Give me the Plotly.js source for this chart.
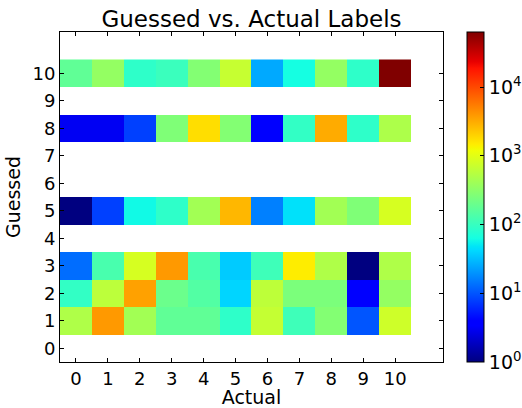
<!DOCTYPE html>
<html>
<head>
<meta charset="utf-8">
<script src="https://cdn.plot.ly/plotly-3.0.1.min.js"></script>
<style>html,body{margin:0;padding:0;background:#fff;}#chart{width:522px;height:408px;}</style>
</head>
<body>
<div id="chart"></div>
<script>
// Counts: rows = guessed label, columns = actual label (null = no data)
const actualLabels = [0,1,2,3,4,5,6,7,8,9,10];
const guessedLabels = [0,1,2,3,4,5,6,7,8,9,10];
const row0 = [null,null,null,null,null,null,null,null,null,null,null];
const row1 = [501,3890,423,175,175,88,661,110,281,10,759];
const row2 = [93,595,3565,201,145,40,608,251,251,4,350];
const row3 = [13,126,847,3890,126,36,110,1456,501,1,501];
const row4 = [null,null,null,null,null,null,null,null,null,null,null];
const row5 = [1,8,60,88,423,2735,16,46,423,265,847];
const row6 = [null,null,null,null,null,null,null,null,null,null,null];
const row7 = [null,null,null,null,null,null,null,null,null,null,null];
const row8 = [3,3,8,265,1740,281,4,93,3160,88,488];
const row9 = [null,null,null,null,null,null,null,null,null,null,null];
const row10 = [175,350,88,104,281,679,25,63,350,88,63000];
const colorTickExps = [0,1,2,3,4];
const colorMaxExp = 4.8;

const rows = [row0,row1,row2,row3,row4,row5,row6,row7,row8,row9,row10];
const zLog = rows.map(r => r.map(v => v === null ? null : Math.log10(v)));

// matplotlib 'jet' colormap
const seg = {
  r: [[0,0],[0.35,0],[0.66,1],[0.89,1],[1,0.5]],
  g: [[0,0],[0.125,0],[0.375,1],[0.64,1],[0.91,0],[1,0]],
  b: [[0,0.5],[0.11,1],[0.34,1],[0.65,0],[1,0]]
};
function interp(s, t){
  for(let i=0;i<s.length-1;i++){
    if(t>=s[i][0] && t<=s[i+1][0]){
      const f=(t-s[i][0])/(s[i+1][0]-s[i][0]);
      return s[i][1]+f*(s[i+1][1]-s[i][1]);
    }
  }
  return s[s.length-1][1];
}
const stops = [0,0.11,0.125,0.34,0.35,0.375,0.5,0.64,0.65,0.66,0.89,0.91,1];
const jet = stops.map(t => [t, 'rgb(' + Math.round(255*interp(seg.r,t)) + ',' + Math.round(255*interp(seg.g,t)) + ',' + Math.round(255*interp(seg.b,t)) + ')']);

const font = {family: 'DejaVu Sans', color: '#000'};
const trace = {
  type: 'heatmap',
  x: actualLabels,
  y: guessedLabels,
  z: zLog,
  zmin: 0,
  zmax: colorMaxExp,
  colorscale: jet,
  hoverongaps: false,
  colorbar: {
    x: 1.063, xanchor: 'left', xref: 'paper',
    y: 0, yanchor: 'bottom', len: 1, lenmode: 'fraction',
    thickness: 17, thicknessmode: 'pixels',
    outlinewidth: 1, outlinecolor: '#000',
    tickvals: colorTickExps,
    ticktext: colorTickExps.map(e => '10<sup>' + e + '</sup>'),
    ticks: 'inside', ticklen: 4, tickcolor: '#000',
    tickfont: {family: 'DejaVu Sans', size: 19, color: '#000'},
    xpad: 0, ypad: 0
  }
};
const axisCommon = {
  range: [-0.5, 11.5],
  tickvals: actualLabels,
  ticktext: actualLabels.map(String),
  ticks: 'inside', ticklen: 4, tickcolor: '#000', tickwidth: 1,
  showline: true, linecolor: '#000', linewidth: 1, mirror: 'ticks',
  showgrid: false, zeroline: false, automargin: false,
  tickfont: {family: 'DejaVu Sans', size: 18, color: '#000'}
};
const layout = {
  width: 522, height: 408,
  margin: {l: 60, r: 79, t: 32, b: 46, autoexpand: false},
  paper_bgcolor: '#fff', plot_bgcolor: '#fff',
  font: font,
  title: {text: 'Guessed vs. Actual Labels', font: {family: 'DejaVu Sans', size: 23, color: '#000'}, x: 0.5, xref: 'paper', xanchor: 'center', y: 1, yref: 'paper', yanchor: 'bottom', pad: {b: 5}},
  xaxis: Object.assign({}, axisCommon, {automargin: true, title: {text: 'Actual', font: {family: 'DejaVu Sans', size: 19, color: '#000'}, standoff: 3}}),
  yaxis: Object.assign({}, axisCommon, {tickvals: guessedLabels, ticktext: guessedLabels.map(String), title: {text: 'Guessed', font: {family: 'DejaVu Sans', size: 19, color: '#000'}, standoff: 6}})
};
Plotly.newPlot('chart', [trace], layout, {staticPlot: true, displayModeBar: false});
</script>
</body>
</html>
